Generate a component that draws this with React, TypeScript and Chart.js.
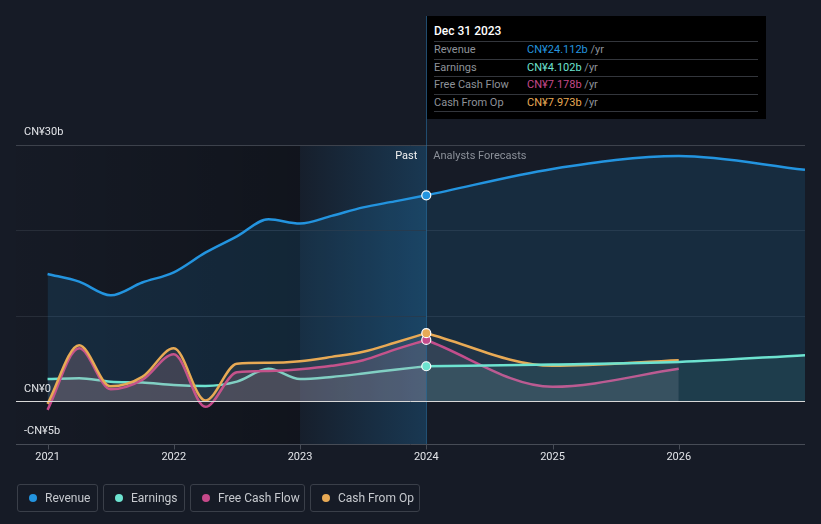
import React, { useEffect, useRef } from "react";
import { Chart, registerables } from "chart.js";
Chart.register(...registerables);

// ---- data (CN¥ billions) ----
const pastYears = [2021, 2021.25, 2021.5, 2021.75, 2022, 2022.25, 2022.5, 2022.75, 2023, 2023.25, 2023.5, 2023.75, 2024];
const revenuePast = [14.9, 14.0, 12.4, 13.9, 15.1, 17.4, 19.3, 21.3, 20.8, 21.7, 22.7, 23.4, 24.112];
const earningsPast = [2.6, 2.7, 2.3, 2.2, 1.9, 1.8, 2.3, 3.8, 2.6, 2.85, 3.25, 3.7, 4.102];
const fcfPast = [-1.0, 6.2, 1.4, 2.5, 5.5, -0.65, 3.4, 3.55, 3.75, 4.15, 4.8, 6.05, 7.178];
const cfoPast = [-0.3, 6.55, 1.75, 2.85, 6.2, 0.1, 4.4, 4.5, 4.7, 5.2, 5.8, 6.85, 7.973];

const forecastYears = [2024, 2025, 2026, 2027];
const revenueForecast = [24.112, 27.2, 28.7, 27.1];
const earningsForecast = [4.102, 4.3, 4.6, 5.4];
const cashForecastYears = [2024, 2025, 2026];
const fcfForecast = [7.178, 1.7, 3.8];
const cfoForecast = [7.973, 4.15, 4.8];

const xTickYears = [2021, 2022, 2023, 2024, 2025, 2026];
const yGridValues = [30, 20, 10];
const yLabels = [
  { v: 30, t: "CN¥30b" },
  { v: 0, t: "CN¥0" },
  { v: -5, t: "-CN¥5b" },
];
const tooltipDate = "Dec 31 2023";

const C_REV = "#2394df";
const C_EARN = "#6de3d0";
const C_FCF = "#c6498a";
const C_CFO = "#e8aa55";
const BG = "#161b26";
const FONT = "Roboto, 'Noto Sans', sans-serif";

const pts = (xs: number[], ys: number[]) => xs.map((x, i) => ({ x, y: ys[i] }));

const lastMarker = (len: number) => (c: any) => (c.dataIndex === len - 1 ? 4.5 : 0);

const decorPlugin = {
  id: "decor",
  beforeDraw(chart: any) {
    const { ctx, chartArea: a, scales } = chart;
    const xs = scales.x;
    const ys = scales.y;
    ctx.save();
    ctx.fillStyle = BG;
    ctx.fillRect(0, 0, chart.width, chart.height);
    const x23 = xs.getPixelForValue(2023);
    const x24 = xs.getPixelForValue(2024);
    // dark past region
    let g = ctx.createLinearGradient(a.left, 0, x23, 0);
    g.addColorStop(0, "rgba(0,0,0,0.02)");
    g.addColorStop(1, "rgba(0,0,0,0.25)");
    ctx.fillStyle = g;
    ctx.fillRect(a.left, a.top, x23 - a.left, a.bottom - a.top);
    // highlighted last year
    g = ctx.createLinearGradient(x23, 0, x24, 0);
    g.addColorStop(0, "rgba(35,148,223,0.03)");
    g.addColorStop(1, "rgba(35,148,223,0.24)");
    ctx.fillStyle = g;
    ctx.fillRect(x23, a.top, x24 - x23, a.bottom - a.top);
    // grid
    ctx.lineWidth = 1;
    yGridValues.forEach((v) => {
      const y = Math.round(ys.getPixelForValue(v)) + 0.5;
      ctx.strokeStyle = v === 30 ? "#3d424c" : "#272d38";
      ctx.beginPath();
      ctx.moveTo(a.left, y);
      ctx.lineTo(a.right, y);
      ctx.stroke();
    });
    // bottom axis
    const yb = Math.round(a.bottom) + 0.5;
    ctx.strokeStyle = "#474c56";
    ctx.beginPath();
    ctx.moveTo(a.left, yb);
    ctx.lineTo(a.right, yb);
    ctx.stroke();
    xTickYears.forEach((yr) => {
      const x = Math.round(xs.getPixelForValue(yr)) + 0.5;
      ctx.beginPath();
      ctx.moveTo(x, yb);
      ctx.lineTo(x, yb + 5);
      ctx.stroke();
    });
    // vertical marker line
    ctx.strokeStyle = "rgba(40,110,160,0.6)";
    ctx.beginPath();
    ctx.moveTo(Math.round(x24) + 0.5, 16);
    ctx.lineTo(Math.round(x24) + 0.5, a.bottom);
    ctx.stroke();
    ctx.restore();
  },
  afterDatasetsDraw(chart: any) {
    const { ctx, chartArea: a, scales } = chart;
    const xs = scales.x;
    const ys = scales.y;
    ctx.save();
    // zero line
    const y0 = Math.round(ys.getPixelForValue(0)) + 0.5;
    ctx.strokeStyle = "#d8d8d8";
    ctx.lineWidth = 1;
    ctx.beginPath();
    ctx.moveTo(a.left, y0);
    ctx.lineTo(a.right, y0);
    ctx.stroke();
    // y labels
    ctx.font = `11px ${FONT}`;
    ctx.textBaseline = "middle";
    ctx.textAlign = "left";
    ctx.fillStyle = "#e2e4e8";
    yLabels.forEach((l) => {
      ctx.fillText(l.t, 24, ys.getPixelForValue(l.v) - 12.5);
    });
    // x labels
    ctx.textAlign = "center";
    ctx.fillStyle = "#e2e4e8";
    xTickYears.forEach((yr) => {
      ctx.fillText(String(yr), xs.getPixelForValue(yr), a.bottom + 13.5);
    });
    // past / forecast
    const x24 = xs.getPixelForValue(2024);
    ctx.textAlign = "right";
    ctx.fillStyle = "#f2f2f2";
    ctx.fillText("Past", x24 - 9, a.top + 11);
    ctx.textAlign = "left";
    ctx.fillStyle = "#8b9099";
    ctx.fillText("Analysts Forecasts", x24 + 7, a.top + 11);
    ctx.restore();
  },
};

const lineBase = {
  borderWidth: 2.5,
  cubicInterpolationMode: "monotone" as const,
  pointBorderColor: "#ffffff",
  pointBorderWidth: 1.2,
  pointHoverRadius: 0,
};

export default function App() {
  const ref = useRef<HTMLCanvasElement>(null);
  useEffect(() => {
    if (!ref.current) return;
    const chart = new Chart(ref.current, {
      type: "line",
      data: {
        datasets: [
          {
            ...lineBase,
            label: "Revenue",
            data: pts([...pastYears, ...forecastYears.slice(1)], [...revenuePast, ...revenueForecast.slice(1)]),
            borderColor: C_REV,
            backgroundColor: "rgba(35,148,223,0.14)",
            pointBackgroundColor: C_REV,
            pointRadius: (c: any) => (c.dataIndex === pastYears.length - 1 ? 4.5 : 0),
            fill: "origin",
            order: 9,
          },
          {
            ...lineBase,
            label: "Earnings past",
            data: pts(pastYears, earningsPast),
            borderColor: C_EARN,
            backgroundColor: "rgba(150,155,165,0.13)",
            pointBackgroundColor: C_EARN,
            pointRadius: 0,
            fill: "origin",
            order: 8,
          },
          {
            ...lineBase,
            label: "FCF past",
            data: pts(pastYears, fcfPast),
            borderColor: C_FCF,
            backgroundColor: "rgba(190,130,160,0.16)",
            pointBackgroundColor: C_FCF,
            pointRadius: 0,
            fill: "origin",
            order: 7,
          },
          {
            ...lineBase,
            label: "CFO past",
            data: pts(pastYears, cfoPast),
            borderColor: C_CFO,
            backgroundColor: "rgba(200,180,160,0.1)",
            pointBackgroundColor: C_CFO,
            pointRadius: 0,
            fill: "origin",
            order: 6,
          },
          {
            ...lineBase,
            label: "FCF forecast",
            data: pts(cashForecastYears, fcfForecast),
            borderColor: C_FCF,
            backgroundColor: "rgba(160,160,175,0.14)",
            pointBackgroundColor: C_FCF,
            pointRadius: (c: any) => (c.dataIndex === 0 ? 4.5 : 0),
            fill: "origin",
            order: 5,
          },
          {
            ...lineBase,
            label: "CFO forecast",
            data: pts(cashForecastYears, cfoForecast),
            borderColor: C_CFO,
            backgroundColor: "rgba(160,160,175,0.07)",
            pointBackgroundColor: C_CFO,
            pointRadius: (c: any) => (c.dataIndex === 0 ? 4.5 : 0),
            fill: "origin",
            order: 4,
          },
          {
            ...lineBase,
            label: "Earnings forecast",
            data: pts(forecastYears, earningsForecast),
            borderColor: C_EARN,
            backgroundColor: "rgba(108,229,210,0.09)",
            pointBackgroundColor: C_EARN,
            pointRadius: (c: any) => (c.dataIndex === 0 ? 4.5 : 0),
            fill: "origin",
            order: 3,
          },
        ],
      },
      options: {
        responsive: false,
        animation: false,
        events: [],
        layout: { padding: { left: 16, right: 16, top: 145, bottom: 80 } },
        scales: {
          x: { type: "linear", min: 2020.75, max: 2027, display: false },
          y: { type: "linear", min: -5, max: 30, display: false },
        },
        plugins: { legend: { display: false }, tooltip: { enabled: false } },
      },
      plugins: [decorPlugin],
    });
    return () => chart.destroy();
  }, []);

  const rows = [
    { label: "Revenue", value: revenuePast[revenuePast.length - 1], color: C_REV },
    { label: "Earnings", value: earningsPast[earningsPast.length - 1], color: C_EARN },
    { label: "Free Cash Flow", value: fcfPast[fcfPast.length - 1], color: C_FCF },
    { label: "Cash From Op", value: cfoPast[cfoPast.length - 1], color: C_CFO },
  ];
  const legend = [
    { label: "Revenue", color: C_REV, w: 81 },
    { label: "Earnings", color: C_EARN, w: 82 },
    { label: "Free Cash Flow", color: C_FCF, w: 115 },
    { label: "Cash From Op", color: C_CFO, w: 110 },
  ];

  return (
    <div
      style={{
        position: "fixed",
        left: 0,
        top: 0,
        width: 821,
        height: 524,
        background: BG,
        fontFamily: FONT,
        overflow: "hidden",
      }}
    >
      <canvas ref={ref} width={821} height={524} style={{ display: "block", width: 821, height: 524 }} />
      <div
        style={{
          position: "absolute",
          left: 427,
          top: 16,
          width: 339,
          height: 103,
          background: "#000",
        }}
      >
        <div
          style={{
            position: "absolute",
            left: 7,
            top: 7,
            height: 16,
            lineHeight: "16px",
            fontSize: 12,
            fontWeight: 500,
            color: "#fff",
          }}
        >
          {tooltipDate}
        </div>
        {rows.map((r, i) => {
          const top = 25 + i * 17.5;
          return (
            <div key={r.label}>
              <div style={{ position: "absolute", left: 7, width: 324, top, height: 1, background: "#33363c" }} />
              <div
                style={{
                  position: "absolute",
                  left: 7,
                  top: top + 1,
                  height: 16.5,
                  lineHeight: "16.5px",
                  fontSize: 11,
                  color: "#8e9299",
                  whiteSpace: "nowrap",
                }}
              >
                {r.label}
              </div>
              <div
                style={{
                  position: "absolute",
                  left: 100,
                  top: top + 1,
                  height: 16.5,
                  lineHeight: "16.5px",
                  fontSize: 11,
                  whiteSpace: "nowrap",
                }}
              >
                <span style={{ color: r.color }}>CN¥{r.value.toFixed(3)}b</span>
                <span style={{ color: "#8e9299" }}> /yr</span>
              </div>
            </div>
          );
        })}
        <div style={{ position: "absolute", left: 7, width: 324, top: 95, height: 1, background: "#33363c" }} />
      </div>
      <div style={{ position: "absolute", left: 17, top: 484, display: "flex", gap: 5 }}>
        {legend.map((l) => (
          <div
            key={l.label}
            style={{
              width: l.w,
              height: 28,
              boxSizing: "border-box",
              border: "1px solid #3a3f49",
              borderRadius: 3,
              display: "flex",
              alignItems: "center",
              paddingLeft: 11,
              fontSize: 12,
              color: "#c6c9ce",
              whiteSpace: "nowrap",
            }}
          >
            <span
              style={{
                width: 8,
                height: 8,
                borderRadius: 4,
                background: l.color,
                marginRight: 8,
                flex: "none",
              }}
            />
            {l.label}
          </div>
        ))}
      </div>
    </div>
  );
}
